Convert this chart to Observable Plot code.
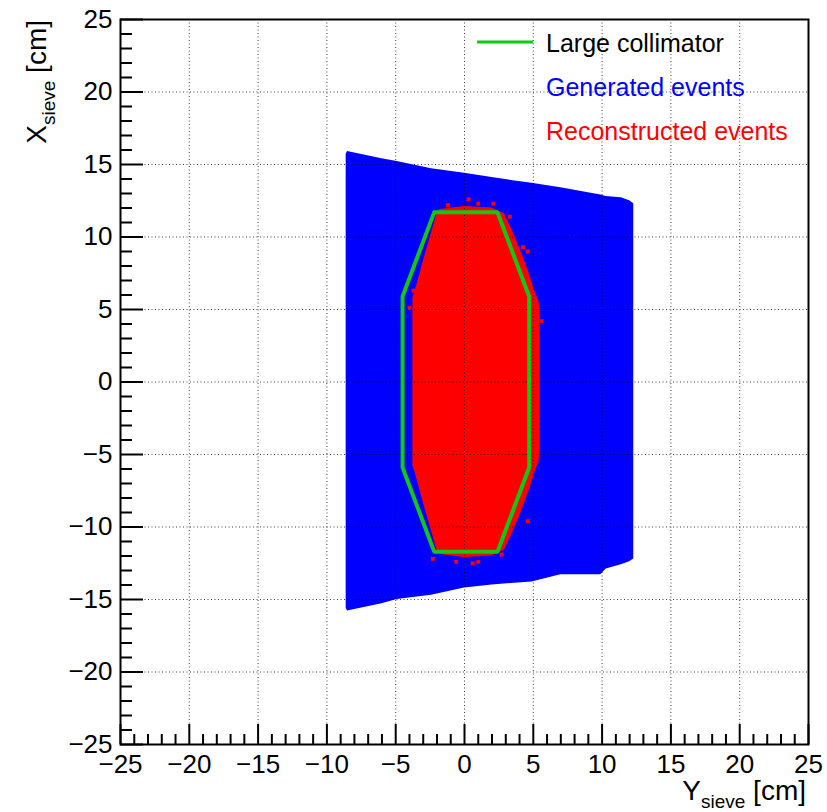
<!DOCTYPE html>
<html>
<head>
<meta charset="utf-8">
<script src="https://cdn.jsdelivr.net/npm/d3@7"></script>
<script src="https://cdn.jsdelivr.net/npm/@observablehq/plot@0.6"></script>
<style>
  html, body { margin: 0; padding: 0; background: #fff; }
  svg { display: block; }
</style>
</head>
<body>
<div id="chart"></div>
<script>
// ---- data ----
// Generated events: region covered (left-to-right edge profile, cm)
const genX      = [-8.6, -8.5, -6.0, -4.9, -2.4, 0.0, 2.0, 3.4, 4.9, 7.0, 9.9, 10.3, 11.4, 12.0, 12.3];
const genTop    = [15.7, 15.9, 15.4, 15.2, 14.7, 14.4, 14.1, 13.9, 13.7, 13.4, 12.9, 12.8, 12.7, 12.5, 12.3];
const genBottom = [-15.6, -15.8, -15.3, -15.0, -14.7, -14.2, -14.0, -13.9, -13.8, -13.3, -13.3, -12.9, -12.6, -12.4, -12.2];

// Reconstructed events: dense region profile (cm)
const recX      = [-3.75, -3.6, -3.0, -2.0, -1.8, 0.0, 2.0, 2.9, 3.5, 4.2, 4.8, 5.2, 5.4, 5.5];
const recTop    = [5.8, 6.2, 8.3, 11.6, 11.9, 12.1, 12.0, 11.6, 10.4, 8.8, 7.2, 6.0, 5.6, 4.6];
const recBottom = [-5.8, -6.2, -8.3, -11.6, -11.9, -12.1, -12.0, -11.6, -10.4, -8.8, -7.2, -6.0, -5.6, -4.6];

// Isolated reconstructed events outside the dense region (cm)
const recDotX = [0.3, 1.0, -1.2, 4.25, 4.6, 5.0, -3.7, -4.0, -2.3, 1.0, 4.6, 0.6, 2.7, 3.3, 5.6, -0.6, 2.1];
const recDotY = [12.6, 12.3, 12.2, 9.3, 9.0, 6.0, 6.3, 5.1, -12.2, -12.4, -9.6, -12.5, -11.9, 11.4, 4.2, -12.4, 12.3];

// Large collimator outline (closed polygon, cm)
const collY = [-2.2, 2.4, 4.7, 4.7, 2.4, -2.2, -4.5, -4.5, -2.2];
const collX = [11.7, 11.7, 5.9, -5.9, -11.7, -11.7, -5.9, 5.9, 11.7];

// Axis ticks
const majorTicks = [-25, -20, -15, -10, -5, 0, 5, 10, 15, 20, 25];
const gridTicks  = [-20, -15, -10, -5, 0, 5, 10, 15, 20];
const minorTicks = d3.range(-25, 26, 1).filter(v => v % 5 !== 0);

// Legend entries
const legendLabels = ["Large collimator", "Generated events", "Reconstructed events"];
const legendColors = ["#000000", "#0000ff", "#ff0000"];

// ---- build tables ----
const gen = genX.map((x, i) => ({x, y1: genBottom[i], y2: genTop[i]}));
const rec = recX.map((x, i) => ({x, y1: recBottom[i], y2: recTop[i]}));
const recDots = recDotX.map((x, i) => ({x, y: recDotY[i]}));
const coll = collY.map((x, i) => ({x, y: collX[i]}));

const W = 827, H = 812;
const mL = 120, mR = 19, mT = 19, mB = 68;
const plotW = W - mL - mR, plotH = H - mT - mB;
const font = "'Liberation Sans', Arial, Helvetica, sans-serif";
const green = "#12c812";
const fmt = d => (d < 0 ? "\u2212" + Math.abs(d) : String(d));

const svg = Plot.plot({
  width: W, height: H,
  marginLeft: mL, marginRight: mR, marginTop: mT, marginBottom: mB,
  style: {fontFamily: font, background: "#fff", overflow: "visible"},
  x: {domain: [-25, 25]},
  y: {domain: [-25, 25]},
  marks: [
    Plot.areaY(gen, {x: "x", y1: "y1", y2: "y2", fill: "#0000ff"}),
    Plot.areaY(rec, {x: "x", y1: "y1", y2: "y2", fill: "#ff0000"}),
    Plot.dot(recDots, {x: "x", y: "y", symbol: "square", r: 2.2, fill: "#ff0000"}),
    Plot.gridX({ticks: gridTicks, stroke: "#000", strokeOpacity: 0.75, strokeDasharray: "1,2.5", strokeWidth: 1}),
    Plot.gridY({ticks: gridTicks, stroke: "#000", strokeOpacity: 0.75, strokeDasharray: "1,2.5", strokeWidth: 1}),
    Plot.line(coll, {x: "x", y: "y", stroke: green, strokeWidth: 4, strokeLinejoin: "miter"}),
    // inward ticks
    Plot.tickX(majorTicks, {x: d => d, insetTop: plotH - 20, stroke: "#000", strokeWidth: 2}),
    Plot.tickX(minorTicks, {x: d => d, insetTop: plotH - 10, stroke: "#000", strokeWidth: 2}),
    Plot.tickY(majorTicks, {y: d => d, insetRight: plotW - 23, stroke: "#000", strokeWidth: 2}),
    Plot.tickY(minorTicks, {y: d => d, insetRight: plotW - 12, stroke: "#000", strokeWidth: 2}),
    Plot.frame({stroke: "#000", strokeWidth: 2}),
    Plot.axisX({ticks: majorTicks, tickSize: 0, tickPadding: 10, tickFormat: fmt, fontSize: 26, label: null}),
    Plot.axisY({ticks: majorTicks, tickSize: 0, tickPadding: 8, tickFormat: fmt, fontSize: 26, label: null})
  ]
});

document.getElementById("chart").appendChild(svg);

// ---- axis titles with subscripts ----
const s = d3.select(svg);
const ty = s.append("text")
  .attr("transform", "translate(46,20) rotate(-90)")
  .attr("text-anchor", "end")
  .attr("font-family", font).attr("font-size", 28).attr("fill", "#000");
ty.append("tspan").text("X");
ty.append("tspan").attr("font-size", 19).attr("dy", 9).text("sieve");
ty.append("tspan").attr("dy", -9).text(" [cm]");

const tx = s.append("text")
  .attr("x", 806).attr("y", 800)
  .attr("text-anchor", "end")
  .attr("font-family", font).attr("font-size", 28).attr("fill", "#000");
tx.append("tspan").text("Y");
tx.append("tspan").attr("font-size", 19).attr("dy", 8).text("sieve");
tx.append("tspan").attr("dy", -8).text(" [cm]");

// ---- legend ----
const lg = s.append("g").attr("font-family", font).attr("font-size", 25).attr("text-anchor", "start");
lg.append("line").attr("x1", 477).attr("x2", 533).attr("y1", 42).attr("y2", 42)
  .attr("stroke", green).attr("stroke-width", 3);
legendLabels.forEach((t, i) => {
  lg.append("text").attr("x", 546).attr("y", 52 + i * 44)
    .attr("text-anchor", "start")
    .attr("fill", legendColors[i]).text(t);
});
</script>
</body>
</html>
